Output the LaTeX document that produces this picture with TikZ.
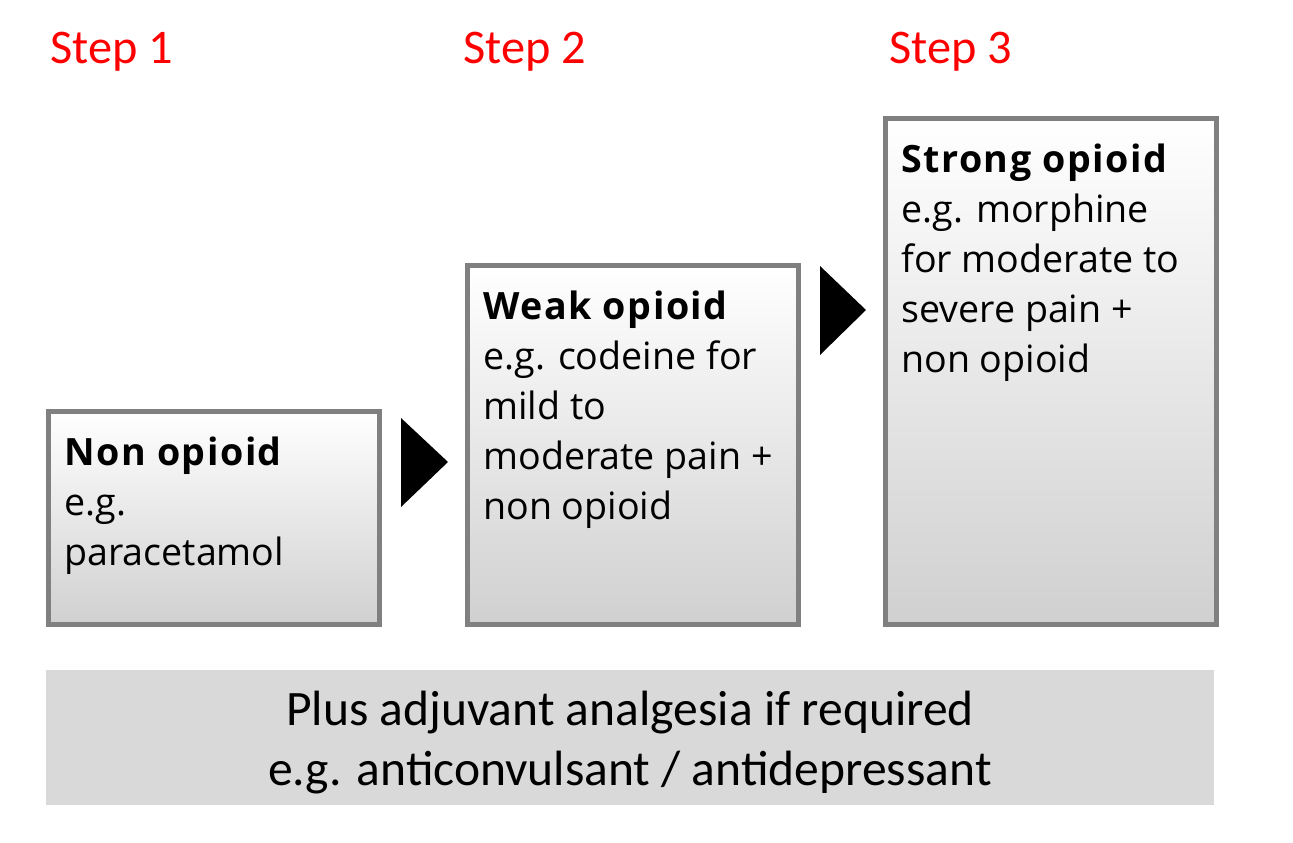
\documentclass[tikz,border=0pt]{standalone}
\usepackage{fontspec}
\setmainfont{Open Sans}
\newfontfamily\calfont{Carlito}
\usepackage{tikz}
\usetikzlibrary{positioning}
\definecolor{boxedge}{RGB}{128,128,128}
\definecolor{boxbot}{RGB}{208,208,208}
\definecolor{adjfill}{RGB}{217,217,217}
\definecolor{steptext}{RGB}{255,0,0}
\newcommand{\boxhead}[1]{{\bfseries\addfontfeature{LetterSpace=4}#1}}

\begin{document}
\begin{tikzpicture}[every node/.style={font=\fontsize{21.4}{28.5}\selectfont},
stepbox/.style={draw=boxedge,line width=0.1cm,top color=white,bottom color=boxbot,minimum width=6.62cm,inner sep=0pt},
boxtext/.style={anchor=north west,align=left,inner sep=0pt},
steplabel/.style={anchor=base west,inner sep=0pt,text=steptext,font=\calfont\fontsize{27.5}{33}\selectfont}]
\useasboundingbox (0,0) rectangle (25.86,16.86);
% step labels
\node[steplabel] (l1) at (1.0,15.58) {Step 1};
\node[steplabel] (l2) at (9.26,15.58) {Step 2};
\node[steplabel] (l3) at (17.78,15.58) {Step 3};
% boxes
\node[stepbox,minimum height=4.26cm] (b1) at (4.28,6.5) {};
\node[stepbox,minimum height=7.18cm] (b2) at (12.66,7.96) {};
\node[stepbox,minimum height=10.12cm] (b3) at (21.02,9.43) {};
\node[boxtext] (t1) at ([xshift=0.36cm,yshift=-0.55cm]b1.north west) {\boxhead{Non opioid}\\e.g.\\paracetamol};
\node[boxtext] (t2) at ([xshift=0.36cm,yshift=-0.55cm]b2.north west) {\boxhead{Weak opioid}\\e.g. codeine for\\mild to\\moderate pain +\\non opioid};
\node[boxtext] (t3) at ([xshift=0.36cm,yshift=-0.55cm]b3.north west) {\boxhead{Strong opioid}\\e.g. morphine\\for moderate to\\severe pain +\\non opioid};
% arrows between steps
\fill (8.02,8.5)--(8.96,7.62)--(8.02,6.72)--cycle;
\fill (16.4,11.54)--(17.32,10.66)--(16.4,9.76)--cycle;
% adjuvant bar
\node[fill=adjfill,minimum width=23.36cm,minimum height=2.7cm,inner sep=0pt,align=center,font=\calfont\fontsize{28.2}{34}\selectfont] (adj) at (12.6,2.11) {};
\node[align=center,inner sep=0pt,font=\calfont\fontsize{28.2}{34}\selectfont] (adjtext) at ([yshift=-0.1cm]adj.center) {Plus adjuvant analgesia if required\\e.g. anticonvulsant / antidepressant};
\end{tikzpicture}
\end{document}
